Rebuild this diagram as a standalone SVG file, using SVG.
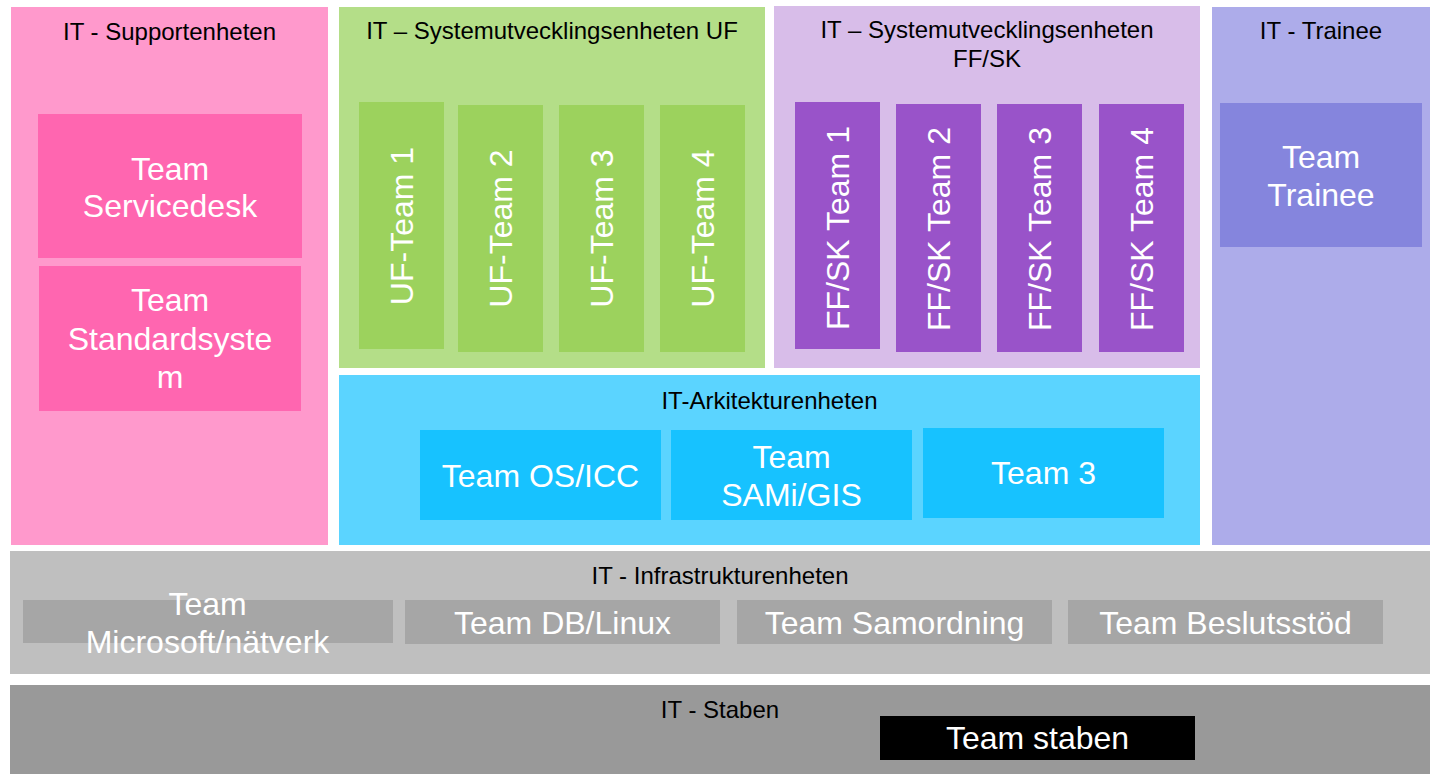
<svg xmlns="http://www.w3.org/2000/svg" width="1430" height="774" viewBox="0 0 1430 774">
<style>
text{font-family:"Liberation Sans",Arial,Helvetica,sans-serif;}
.t{font-size:24px;fill:#000;text-anchor:middle;}
.w{font-size:32px;fill:#fff;text-anchor:middle;}
.pinkP{fill:#FF99CC;} .pinkB{fill:#FF66B0;}
.greenP{fill:#B4DE88;} .greenB{fill:#9CD25D;}
.lilaP{fill:#D8BDE9;} .lilaB{fill:#9953C9;}
.trainP{fill:#ADACEA;} .trainB{fill:#8585DD;}
.cyanP{fill:#5BD4FF;} .cyanB{fill:#17C2FF;}
.infraP{fill:#BFBFBF;} .infraB{fill:#A6A6A6;}
.stabP{fill:#999999;} .stabB{fill:#000000;}
</style>
<rect width="1430" height="774" fill="#fff"/>

<g id="supportenheten">
  <rect class="pinkP" x="11" y="7" width="317" height="538"/>
  <text class="t" x="169.5" y="40">IT - Supportenheten</text>
</g>
<g id="team-servicedesk">
  <rect class="pinkB" x="38" y="114" width="264" height="144"/>
  <text class="w" x="170" y="179.5">Team</text>
  <text class="w" x="170" y="217">Servicedesk</text>
</g>
<g id="team-standardsystem">
  <rect class="pinkB" x="39" y="266" width="262" height="145"/>
  <text class="w" x="170" y="311">Team</text>
  <text class="w" x="170" y="349.5">Standardsyste</text>
  <text class="w" x="170" y="388">m</text>
</g>

<g id="systemutveckling-uf">
  <rect class="greenP" x="339" y="7" width="426" height="361"/>
  <text class="t" x="552" y="38.5">IT – Systemutvecklingsenheten UF</text>
</g>
<g id="uf-team-1">
  <rect class="greenB" x="359" y="102" width="85" height="247"/>
  <text class="w" x="401.5" y="237.5" transform="rotate(-90 401.5 226)">UF-Team 1</text>
</g>
<g id="uf-team-2">
  <rect class="greenB" x="458" y="105" width="85" height="247"/>
  <text class="w" x="500.5" y="240" transform="rotate(-90 500.5 228.5)">UF-Team 2</text>
</g>
<g id="uf-team-3">
  <rect class="greenB" x="559" y="105" width="85" height="247"/>
  <text class="w" x="601.5" y="240" transform="rotate(-90 601.5 228.5)">UF-Team 3</text>
</g>
<g id="uf-team-4">
  <rect class="greenB" x="660" y="105" width="85" height="247"/>
  <text class="w" x="702.5" y="240" transform="rotate(-90 702.5 228.5)">UF-Team 4</text>
</g>

<g id="systemutveckling-ffsk">
  <rect class="lilaP" x="774" y="6" width="426" height="362"/>
  <text class="t" x="987" y="37.5">IT – Systemutvecklingsenheten</text>
  <text class="t" x="987" y="66.5">FF/SK</text>
</g>
<g id="ffsk-team-1">
  <rect class="lilaB" x="795" y="102" width="85" height="247"/>
  <text class="w" x="837.5" y="239.5" transform="rotate(-90 837.5 228)">FF/SK Team 1</text>
</g>
<g id="ffsk-team-2">
  <rect class="lilaB" x="896" y="104" width="85" height="248"/>
  <text class="w" x="938.5" y="240.5" transform="rotate(-90 938.5 229)">FF/SK Team 2</text>
</g>
<g id="ffsk-team-3">
  <rect class="lilaB" x="997" y="104" width="85" height="248"/>
  <text class="w" x="1039.5" y="240.5" transform="rotate(-90 1039.5 229)">FF/SK Team 3</text>
</g>
<g id="ffsk-team-4">
  <rect class="lilaB" x="1099" y="104" width="85" height="248"/>
  <text class="w" x="1141.5" y="240.5" transform="rotate(-90 1141.5 229)">FF/SK Team 4</text>
</g>

<g id="trainee">
  <rect class="trainP" x="1212" y="7" width="218" height="538"/>
  <text class="t" x="1321" y="39">IT - Trainee</text>
</g>
<g id="team-trainee">
  <rect class="trainB" x="1220" y="103" width="202" height="144"/>
  <text class="w" x="1321" y="167.5">Team</text>
  <text class="w" x="1321" y="205.5">Trainee</text>
</g>

<g id="arkitekturenheten">
  <rect class="cyanP" x="339" y="375" width="861" height="170"/>
  <text class="t" x="769.5" y="408.5">IT-Arkitekturenheten</text>
</g>
<g id="team-os-icc">
  <rect class="cyanB" x="420" y="430" width="241" height="90"/>
  <text class="w" x="540.5" y="487">Team OS/ICC</text>
</g>
<g id="team-sami-gis">
  <rect class="cyanB" x="671" y="430" width="241" height="90"/>
  <text class="w" x="791.5" y="468">Team</text>
  <text class="w" x="791.5" y="505.5">SAMi/GIS</text>
</g>
<g id="team-3">
  <rect class="cyanB" x="923" y="428" width="241" height="90"/>
  <text class="w" x="1043.5" y="483.5">Team 3</text>
</g>

<g id="infrastrukturenheten">
  <rect class="infraP" x="10" y="551" width="1420" height="123"/>
  <text class="t" x="720" y="584">IT - Infrastrukturenheten</text>
</g>
<g id="team-microsoft">
  <rect class="infraB" x="23" y="600" width="370" height="43"/>
  <text class="w" x="207.5" y="615">Team</text>
  <text class="w" x="207.5" y="652.5">Microsoft/nätverk</text>
</g>
<g id="team-db-linux">
  <rect class="infraB" x="405" y="600" width="315" height="44"/>
  <text class="w" x="562.5" y="633.5">Team DB/Linux</text>
</g>
<g id="team-samordning">
  <rect class="infraB" x="737" y="600" width="315" height="44"/>
  <text class="w" x="894.5" y="633.5">Team Samordning</text>
</g>
<g id="team-beslutsstod">
  <rect class="infraB" x="1068" y="600" width="315" height="44"/>
  <text class="w" x="1225.5" y="633.5">Team Beslutsstöd</text>
</g>

<g id="staben">
  <rect class="stabP" x="10" y="685" width="1420" height="89"/>
  <text class="t" x="720" y="718">IT - Staben</text>
</g>
<g id="team-staben">
  <rect class="stabB" x="880" y="716" width="315" height="44"/>
  <text class="w" x="1037.5" y="748.5">Team staben</text>
</g>
</svg>
